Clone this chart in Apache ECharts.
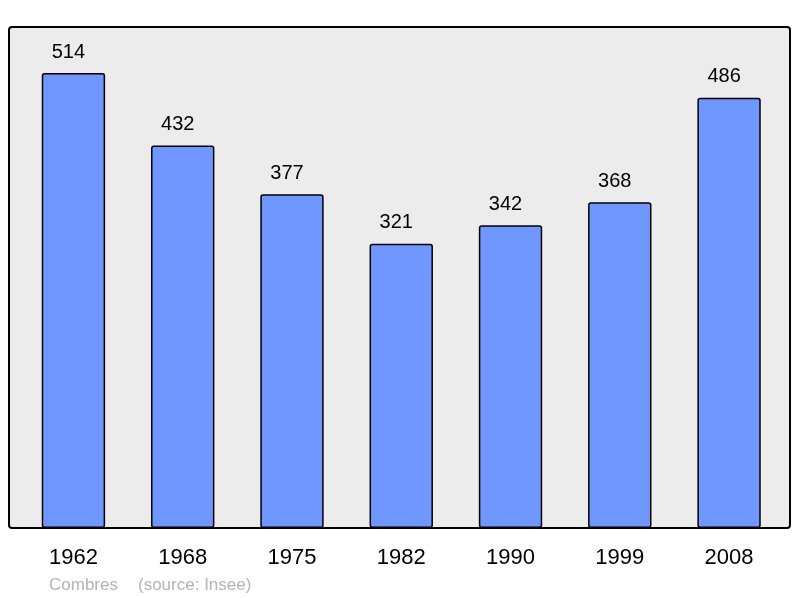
<!DOCTYPE html>
<html>
  <head>
    <meta charset="utf-8" />
    <title>Combres</title>
    <script src="https://cdn.jsdelivr.net/npm/echarts@6/dist/echarts.min.js"></script>
    <style>
      html, body { margin: 0; padding: 0; background: #ffffff; }
    </style>
  </head>
  <body>
    <div id="main" style="width: 800px;height:598px;"></div>
    <script type="text/javascript">
      var myChart = echarts.init(document.getElementById('main'));

      // années du recensement
      var years = ['1962', '1968', '1975', '1982', '1990', '1999', '2008'];
      // population
      var population = [514, 432, 377, 321, 342, 368, 486];

      var option = {
        animation: false,
        textStyle: { fontFamily: 'Liberation Sans, Arial, sans-serif' },
        grid: {
          left: 18.8,
          right: 16.3,
          top: 27,
          bottom: 70
        },
        graphic: [
          {
            // fond gris avec bordure noire
            type: 'rect',
            z: -10,
            shape: { x: 9, y: 27, width: 781, height: 501, r: 3 },
            style: { fill: '#ececec', stroke: '#000000', lineWidth: 2 }
          },
          {
            type: 'text',
            left: 49,
            top: 577,
            style: { text: 'Combres', fill: '#b3b3b3', font: '17px Liberation Sans, Arial, sans-serif' }
          },
          {
            type: 'text',
            left: 138,
            top: 577,
            style: { text: '(source: Insee)', fill: '#b3b3b3', font: '17px Liberation Sans, Arial, sans-serif' }
          }
        ],
        xAxis: {
          type: 'category',
          data: years,
          axisLine: { show: false },
          axisTick: { show: false },
          axisLabel: {
            color: '#000000',
            fontSize: 22,
            margin: 19
          }
        },
        yAxis: {
          type: 'value',
          min: 0,
          max: 566,
          show: false,
          splitLine: { show: false }
        },
        series: [
          {
            name: 'population',
            type: 'bar',
            data: population,
            barWidth: '58%',
            itemStyle: {
              color: '#7096ff',
              borderColor: '#000000',
              borderWidth: 1.5,
              borderRadius: 2
            },
            label: {
              show: true,
              position: 'top',
              distance: 11,
              offset: [-5, 0],
              color: '#000000',
              fontSize: 20
            }
          }
        ]
      };

      myChart.setOption(option);
    </script>
  </body>
</html>
